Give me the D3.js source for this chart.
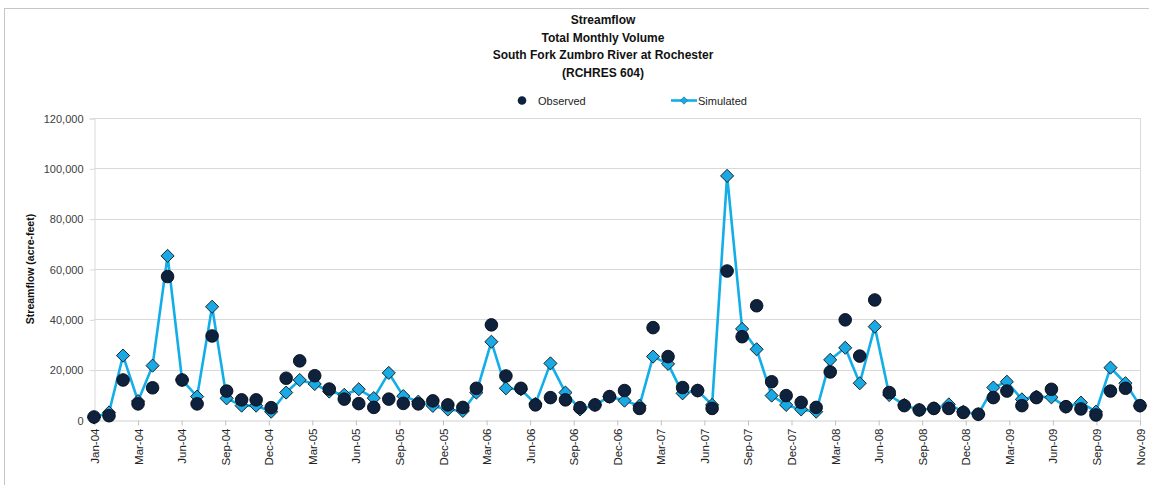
<!DOCTYPE html>
<html>
<head>
<meta charset="utf-8">
<script src="https://cdn.jsdelivr.net/npm/d3@7"></script>
<style>
  body { margin: 0; background: #fff; }
  svg text { font-family: "Liberation Sans", Arial, sans-serif; }
</style>
</head>
<body>
<svg id="chart" width="1149" height="485"></svg>
<script>
// month of each value (first day of month)
var months = [
  "Jan-04","Feb-04","Mar-04","Apr-04","May-04","Jun-04","Jul-04","Aug-04","Sep-04","Oct-04","Nov-04","Dec-04",
  "Jan-05","Feb-05","Mar-05","Apr-05","May-05","Jun-05","Jul-05","Aug-05","Sep-05","Oct-05","Nov-05","Dec-05",
  "Jan-06","Feb-06","Mar-06","Apr-06","May-06","Jun-06","Jul-06","Aug-06","Sep-06","Oct-06","Nov-06","Dec-06",
  "Jan-07","Feb-07","Mar-07","Apr-07","May-07","Jun-07","Jul-07","Aug-07","Sep-07","Oct-07","Nov-07","Dec-07",
  "Jan-08","Feb-08","Mar-08","Apr-08","May-08","Jun-08","Jul-08","Aug-08","Sep-08","Oct-08","Nov-08","Dec-08",
  "Jan-09","Feb-09","Mar-09","Apr-09","May-09","Jun-09","Jul-09","Aug-09","Sep-09","Oct-09","Nov-09","Dec-09"
];

// acre-feet
var observed = [
  1200, 1700, 15900, 6400, 12800, 57000, 15900, 6400, 33400, 11500, 8000, 8000,
  4900, 16600, 23500, 17600, 12300, 8300, 6500, 5000, 8300, 6600, 6400, 7600,
  6000, 5000, 12600, 37800, 17500, 12600, 6000, 8900, 8000, 4900, 6000, 9300,
  11700, 4600, 36700, 25200, 12900, 11700, 4600, 59200, 33100, 45400, 15200, 9700,
  7000, 5000, 19100, 39800, 25400, 47700, 10900, 5700, 4000, 4600, 4600, 3000,
  2300, 8900, 11500, 5700, 8900, 12200, 5300, 4400, 2000, 11500, 12600, 5700
];

var simulated = [
  1000, 3000, 25600, 7500, 21600, 65200, 15900, 9300, 45000, 8600, 5700, 5700,
  3300, 10900, 15900, 14300, 11300, 10000, 12200, 8700, 18700, 9500, 7300, 5600,
  4200, 3600, 10900, 31100, 12600, 12200, 6400, 22500, 10900, 4200, 6000, 9300,
  7700, 5700, 25200, 22300, 10600, 11700, 6000, 97000, 36200, 28100, 9700, 6000,
  4200, 3300, 23900, 28700, 14600, 37100, 9900, 6000, 4000, 4600, 6200, 3300,
  2300, 12900, 15200, 8200, 9300, 9000, 5300, 6900, 3300, 20800, 14600, 5700
];

// x-axis labels, one every 90 days from the first month
var tickLabels = [
  "Jan-04","Mar-04","Jun-04","Sep-04","Dec-04","Mar-05","Jun-05","Sep-05","Dec-05",
  "Mar-06","Jun-06","Sep-06","Dec-06","Mar-07","Jun-07","Sep-07","Dec-07",
  "Mar-08","Jun-08","Sep-08","Dec-08","Mar-09","Jun-09","Sep-09","Nov-09"
];
var yTicks = [0, 20000, 40000, 60000, 80000, 100000, 120000];

var titleLines = ["Streamflow", "Total Monthly Volume", "South Fork Zumbro River at Rochester", "(RCHRES 604)"];

var lineColor = "#12aee8",
    diamondFill = "#19aae6",
    dotFill = "#0e213d";

var W = 1149, H = 485;
var plot = { left: 94, right: 1140, top: 118, bottom: 420 };

var svg = d3.select("#chart");
var parse = d3.timeParse("%b-%y");
var dates = months.map(parse);

// chart area border (cropped on the right and bottom)
svg.append("rect")
  .attr("x", 4.5).attr("y", 8.5)
  .attr("width", W + 20).attr("height", H + 20)
  .attr("fill", "#fff")
  .attr("stroke", "#c6c6c6");

var x = d3.scaleTime()
  .domain([dates[0], dates[dates.length - 1]])
  .range([plot.left, plot.right]);

var y = d3.scaleLinear()
  .domain([0, 120000])
  .range([plot.bottom, plot.top]);

var tickDates = tickLabels.map(function(d, i) { return d3.timeDay.offset(dates[0], 90 * i); });

// gridlines
svg.append("g").selectAll("line")
  .data(yTicks.slice(1))
  .join("line")
  .attr("x1", plot.left).attr("x2", plot.right)
  .attr("y1", function(d) { return Math.round(y(d)) + 0.5; })
  .attr("y2", function(d) { return Math.round(y(d)) + 0.5; })
  .attr("stroke", "#d9d9d9");

// plot border right side
svg.append("line")
  .attr("x1", plot.right + 0.5).attr("x2", plot.right + 0.5)
  .attr("y1", plot.top).attr("y2", plot.bottom)
  .attr("stroke", "#d9d9d9");

// y axis
var yAxis = d3.axisLeft(y)
  .tickValues(yTicks)
  .tickSize(5)
  .tickPadding(6)
  .tickFormat(d3.format(","));
var gy = svg.append("g")
  .attr("transform", "translate(" + (plot.left + 0.5) + ",0.5)")
  .call(yAxis);
gy.select(".domain").attr("stroke", "#d9d9d9");
gy.selectAll(".tick line").attr("stroke", "#d9d9d9");
gy.selectAll("text")
  .attr("font-size", "11px")
  .attr("fill", "#404040")
  .attr("font-family", "Liberation Sans, Arial, sans-serif");

// x axis
var xAxis = d3.axisBottom(x)
  .tickValues(tickDates)
  .tickSize(5)
  .tickSizeOuter(0)
  .tickFormat(function(d, i) { return tickLabels[i]; });
var gx = svg.append("g")
  .attr("transform", "translate(0.5," + (plot.bottom + 0.5) + ")")
  .call(xAxis);
gx.select(".domain").attr("stroke", "#d0d0d0");
gx.selectAll(".tick line").attr("stroke", "#c0c0c0");
gx.selectAll("text")
  .attr("font-size", "11.5px")
  .attr("fill", "#222")
  .attr("font-family", "Liberation Sans, Arial, sans-serif")
  .attr("text-anchor", "end")
  .attr("transform", "rotate(-90)")
  .attr("x", -8)
  .attr("y", 0)
  .attr("dy", "0.35em");

// y axis title
svg.append("text")
  .attr("transform", "translate(34," + ((plot.top + plot.bottom) / 2) + ") rotate(-90)")
  .attr("text-anchor", "middle")
  .attr("font-size", "10.5px")
  .attr("font-weight", "bold")
  .attr("fill", "#111")
  .text("Streamflow (acre-feet)");

// title
svg.append("g").selectAll("text")
  .data(titleLines)
  .join("text")
  .attr("x", 603)
  .attr("y", function(d, i) { return 24 + i * 17.5; })
  .attr("text-anchor", "middle")
  .attr("font-size", "12px")
  .attr("font-weight", "bold")
  .attr("fill", "#111")
  .text(function(d) { return d; });

// simulated line + diamonds
var line = d3.line()
  .x(function(d, i) { return x(dates[i]); })
  .y(function(d) { return y(d); });

svg.append("path")
  .datum(simulated)
  .attr("d", line)
  .attr("fill", "none")
  .attr("stroke", lineColor)
  .attr("stroke-width", 2.6)
  .attr("stroke-linejoin", "round");

var diamond = d3.symbol().type(d3.symbolDiamond2).size(110);
svg.append("g").selectAll("path")
  .data(simulated)
  .join("path")
  .attr("d", diamond)
  .attr("transform", function(d, i) { return "translate(" + x(dates[i]) + "," + y(d) + ")"; })
  .attr("fill", diamondFill)
  .attr("stroke", "#111")
  .attr("stroke-width", 0.9);

// observed dots
svg.append("g").selectAll("circle")
  .data(observed)
  .join("circle")
  .attr("cx", function(d, i) { return x(dates[i]); })
  .attr("cy", function(d) { return y(d); })
  .attr("r", 6.3)
  .attr("fill", dotFill)
  .attr("stroke", "#050b16")
  .attr("stroke-width", 0.9);

// legend
var leg = svg.append("g");
leg.append("circle")
  .attr("cx", 522).attr("cy", 100.5).attr("r", 4.3)
  .attr("fill", dotFill);
leg.append("text")
  .attr("x", 538).attr("y", 104.5)
  .attr("font-size", "11px").attr("fill", "#222")
  .text("Observed");
leg.append("line")
  .attr("x1", 671).attr("x2", 697).attr("y1", 100.5).attr("y2", 100.5)
  .attr("stroke", lineColor).attr("stroke-width", 2.6);
leg.append("path")
  .attr("d", d3.symbol().type(d3.symbolDiamond2).size(35))
  .attr("transform", "translate(684,100.5)")
  .attr("fill", diamondFill)
  .attr("stroke", "#1a6f99").attr("stroke-width", 0.6);
leg.append("text")
  .attr("x", 698).attr("y", 104.5)
  .attr("font-size", "11px").attr("fill", "#222")
  .text("Simulated");
</script>
</body>
</html>
